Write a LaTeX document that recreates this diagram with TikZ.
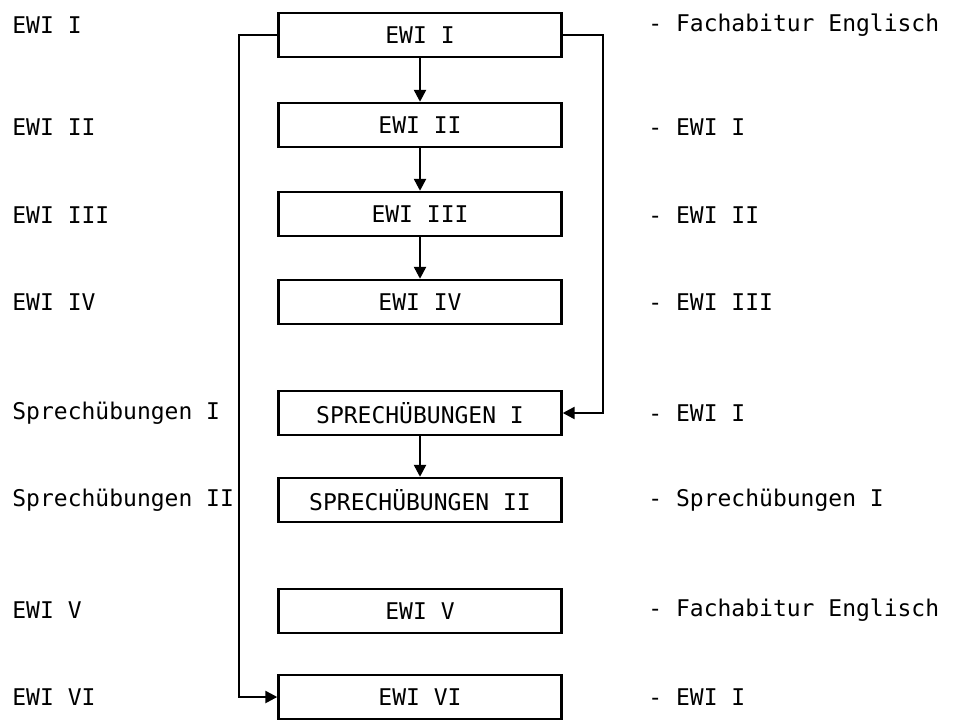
\documentclass[tikz,border=0pt]{standalone}
\usepackage{fontspec}
\setmonofont{DejaVu Sans Mono}
\usetikzlibrary{arrows.meta}

\begin{document}
\begin{tikzpicture}[x=0.5pt, y=-0.5pt,
    every node/.style={font=\ttfamily\fontsize{11.5}{13}\selectfont},
    course/.style={draw, line width=1.2pt, minimum width=141.5pt, minimum height=22pt, inner sep=0pt},
    prereq/.style={anchor=west, inner sep=0pt},
    arr/.style={line width=1.2pt, -{Triangle[length=6pt, width=6pt]}}]

        \useasboundingbox (0,0) rectangle (956,727);

        % courses
        \node[course] (ewi1) at (420,35) {EWI I};
        \node[course] (ewi2) at (420,125) {EWI II};
        \node[course] (ewi3) at (420,214) {EWI III};
        \node[course] (ewi4) at (420,302) {EWI IV};
        \node[course] (sp1) at (420,413) {SPRECHÜBUNGEN I};
        \node[course] (sp2) at (420,500) {SPRECHÜBUNGEN II};
        \node[course] (ewi5) at (420,611) {EWI V};
        \node[course] (ewi6) at (420,697) {EWI VI};

        % left column
        \node[prereq] (l1) at (12,25) {EWI I};
        \node[prereq] (l2) at (12,127) {EWI II};
        \node[prereq] (l3) at (12,215) {EWI III};
        \node[prereq] (l4) at (12,302) {EWI IV};
        \node[prereq] (l5) at (12,413) {Sprechübungen I};
        \node[prereq] (l6) at (12,500) {Sprechübungen II};
        \node[prereq] (l7) at (12,610) {EWI V};
        \node[prereq] (l8) at (12,697) {EWI VI};

        % right column
        \node[prereq] (r1) at (648,25) {- Fachabitur Englisch};
        \node[prereq] (r2) at (648,127) {- EWI I};
        \node[prereq] (r3) at (648,215) {- EWI II};
        \node[prereq] (r4) at (648,302) {- EWI III};
        \node[prereq] (r5) at (648,413) {- EWI I};
        \node[prereq] (r6) at (648,500) {- Sprechübungen I};
        \node[prereq] (r7) at (648,610) {- Fachabitur Englisch};
        \node[prereq] (r8) at (648,697) {- EWI I};

        \coordinate (lbus) at (239,0);
        \coordinate (rbus) at (603,0);

        \draw[arr] (ewi1) -- (ewi2);
        \draw[arr] (ewi2) -- (ewi3);
        \draw[arr] (ewi3) -- (ewi4);
        \draw[arr] (sp1) -- (sp2);
        \draw[arr] (ewi1.west) -- (ewi1.west -| lbus) |- (ewi6.west);
        \draw[arr] (ewi1.east) -- (ewi1.east -| rbus) |- (sp1.east);

\end{tikzpicture}
\end{document}
